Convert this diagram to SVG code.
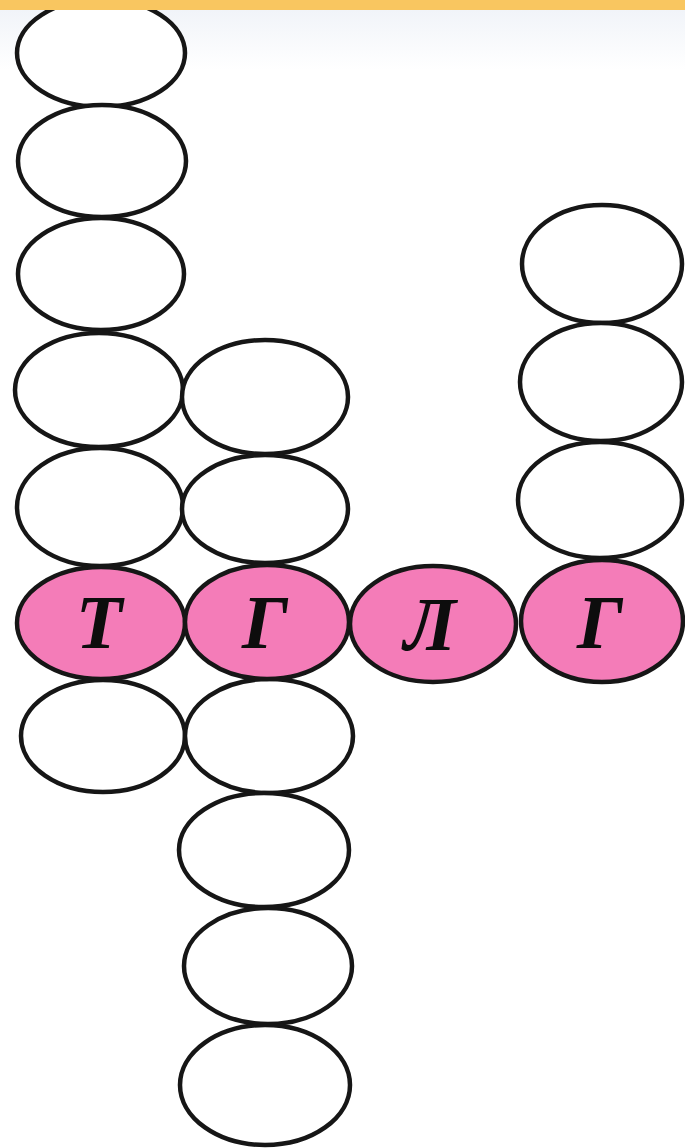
<svg xmlns="http://www.w3.org/2000/svg" width="685" height="1148" viewBox="0 0 685 1148">
  <style>
    .cell { fill: #ffffff; stroke: #161616; stroke-width: 4.5; }
    .key { fill: #F47CB8; stroke: #161616; stroke-width: 4.5; }
    .letter { font-family: "Liberation Serif", "DejaVu Serif", serif; font-style: italic; font-weight: bold; font-size: 76px; fill: #0d0d0d; text-anchor: middle; }
  </style>
  <defs>
    <linearGradient id="haze" x1="0" y1="0" x2="0" y2="1">
      <stop offset="0" stop-color="#f1f4f9"/>
      <stop offset="1" stop-color="#ffffff"/>
    </linearGradient>
  </defs>
  <rect x="0" y="0" width="685" height="1148" fill="#ffffff"/>
  <rect x="0" y="10" width="685" height="60" fill="url(#haze)"/>

  <!-- left column -->
  <g id="c1r1"><ellipse class="cell" cx="101" cy="53" rx="84" ry="54"/></g>
  <g id="c1r2"><ellipse class="cell" cx="102" cy="161" rx="84" ry="56"/></g>
  <g id="c1r3"><ellipse class="cell" cx="101" cy="274" rx="83" ry="56"/></g>
  <g id="c1r4"><ellipse class="cell" cx="99" cy="390" rx="84" ry="57"/></g>
  <g id="c1r5"><ellipse class="cell" cx="100" cy="507" rx="83" ry="59"/></g>
  <g id="c1r7"><ellipse class="cell" cx="103" cy="736" rx="82" ry="56"/></g>

  <!-- middle column -->
  <g id="c2r1"><ellipse class="cell" cx="265" cy="397" rx="83" ry="57"/></g>
  <g id="c2r2"><ellipse class="cell" cx="265" cy="509" rx="83" ry="54"/></g>
  <g id="c2r4"><ellipse class="cell" cx="269" cy="736" rx="84" ry="57"/></g>
  <g id="c2r5"><ellipse class="cell" cx="264" cy="850" rx="85" ry="57"/></g>
  <g id="c2r6"><ellipse class="cell" cx="268" cy="966" rx="84" ry="58"/></g>
  <g id="c2r7"><ellipse class="cell" cx="265" cy="1085" rx="85" ry="60"/></g>

  <!-- right column -->
  <g id="c4r1"><ellipse class="cell" cx="602" cy="264" rx="80" ry="59"/></g>
  <g id="c4r2"><ellipse class="cell" cx="601" cy="382" rx="81" ry="59"/></g>
  <g id="c4r3"><ellipse class="cell" cx="600" cy="500" rx="82" ry="58"/></g>

  <!-- highlighted row -->
  <g id="key1"><ellipse class="key" cx="101" cy="623" rx="84" ry="56"/><text class="letter" x="99" y="648">Т</text></g>
  <g id="key2"><ellipse class="key" cx="267" cy="622" rx="82" ry="57"/><text class="letter" x="265" y="648">Г</text></g>
  <g id="key3"><ellipse class="key" cx="433" cy="624" rx="83" ry="58"/><text class="letter" x="430" y="650">Л</text></g>
  <g id="key4"><ellipse class="key" cx="602" cy="621" rx="81" ry="61"/><text class="letter" x="600" y="648">Г</text></g>

  <g id="connectors"></g>

  <rect x="0" y="0" width="685" height="10" fill="#F9C660"/>
</svg>
